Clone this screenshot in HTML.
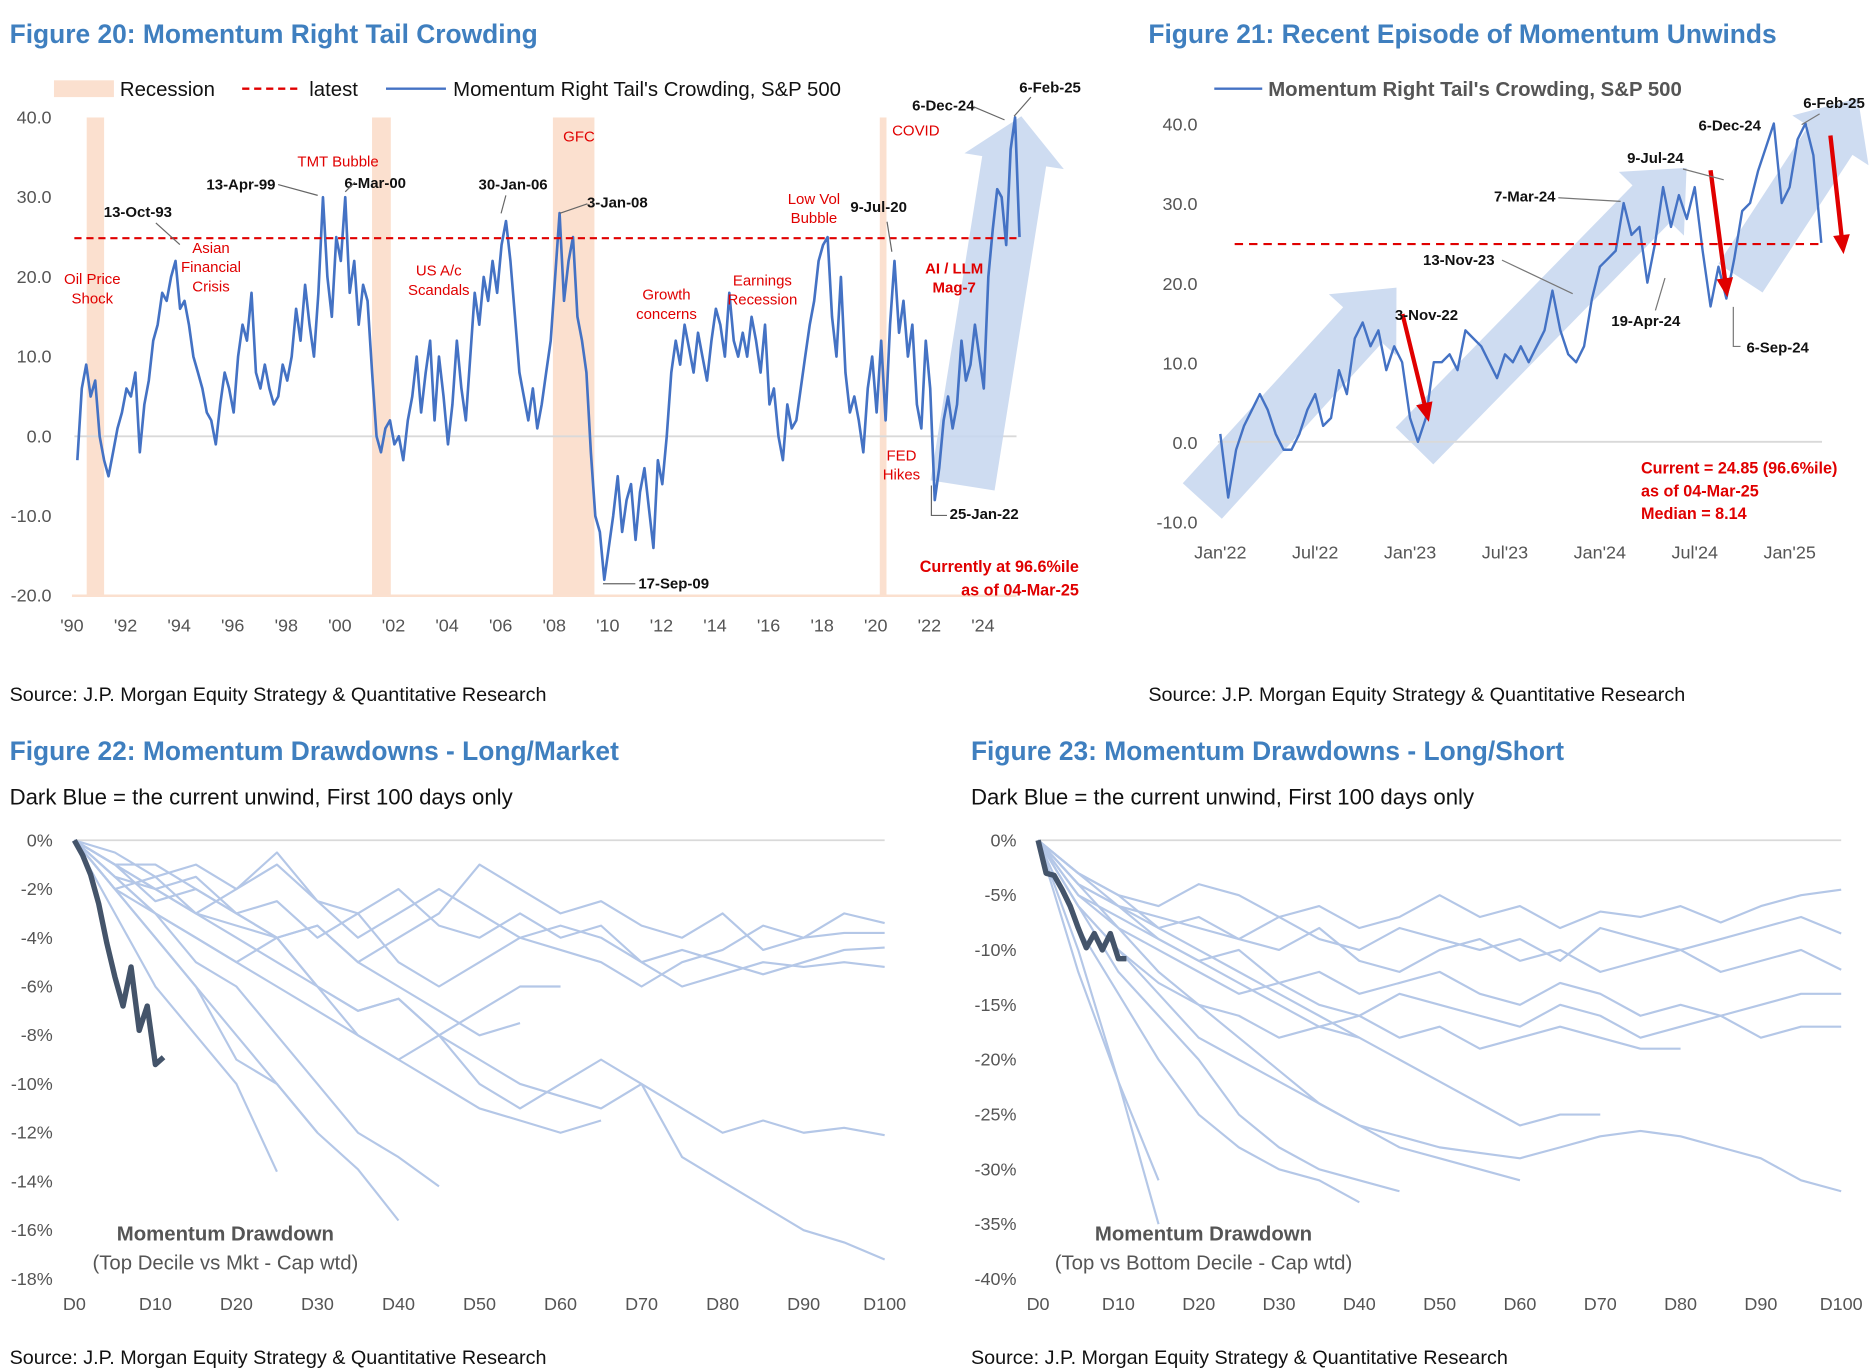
<!DOCTYPE html>
<html><head><meta charset="utf-8"><style>
html,body{margin:0;padding:0;background:#fff;}
svg{display:block;font-family:"Liberation Sans Narrow","Liberation Sans",sans-serif;}
.title{font-size:22px;font-weight:bold;fill:#3f7fbf;}
.sub{font-size:18.5px;fill:#111;}
.src{font-size:16.5px;fill:#111;}
.tick{font-size:15px;fill:#555;}
.ann{font-size:12.5px;font-weight:bold;fill:#111;}
.red{font-size:12.5px;fill:#e00000;}
.redb{font-size:13.5px;font-weight:bold;fill:#e00000;}
.leg{font-size:17px;fill:#111;}
</style></head><body>
<svg id="root" width="1870" height="1372" viewBox="0 0 1560 1144.6" xmlns="http://www.w3.org/2000/svg">
<text class="title" x="8" y="36">Figure 20: Momentum Right Tail Crowding</text>
<text class="title" x="958" y="36">Figure 21: Recent Episode of Momentum Unwinds</text>
<text class="src" x="8" y="585">Source: J.P. Morgan Equity Strategy &amp; Quantitative Research</text>
<text class="src" x="958" y="585">Source: J.P. Morgan Equity Strategy &amp; Quantitative Research</text>
<text class="title" x="8" y="634">Figure 22: Momentum Drawdowns - Long/Market</text>
<text class="sub" x="8" y="671">Dark Blue = the current unwind, First 100 days only</text>
<text class="title" x="810" y="634">Figure 23: Momentum Drawdowns - Long/Short</text>
<text class="sub" x="810" y="671">Dark Blue = the current unwind, First 100 days only</text>
<text class="src" x="8" y="1138">Source: J.P. Morgan Equity Strategy &amp; Quantitative Research</text>
<text class="src" x="810" y="1138">Source: J.P. Morgan Equity Strategy &amp; Quantitative Research</text>

<rect x="45" y="67" width="50" height="14" fill="#fbe0cf"/>
<text class="leg" x="100" y="80">Recession</text>
<line x1="202" y1="74" x2="252" y2="74" stroke="#e00000" stroke-width="2" stroke-dasharray="6,4"/>
<text class="leg" x="258" y="80">latest</text>
<line x1="322" y1="74" x2="372" y2="74" stroke="#4472c4" stroke-width="2"/>
<text class="leg" x="378" y="80">Momentum Right Tail's Crowding, S&amp;P 500</text>
<line x1="1013" y1="74" x2="1053" y2="74" stroke="#4472c4" stroke-width="2"/>
<text x="1058" y="80" style="font-size:17px;font-weight:bold;fill:#555">Momentum Right Tail's Crowding, S&amp;P 500</text>

<g id="f20"></g>
<g id="f21"></g>
<g id="f22"></g>
<g id="f23"></g>
</svg>
<script>
const f20Start = 1990.2;
const f20Values = [
-3,6,9,5,7,0, -3,-5,-2,1,3,6, 5,8,-2,4,7,12, 14,18,17,20,22,16, 17,14,10,8,6,3,
2,-1,4,8,6,3, 10,14,12,18,8,6, 9,6,4,5,9,7, 10,16,12,19,14,10, 18,30,20,15,25,22,
30,18,22,14,19,17, 8,0,-2,1,2,-1, 0,-3,2,5,10,3, 8,12,2,10,5,-1, 4,12,6,2,10,18,
14,20,17,22,18,24, 27,22,15,8,5,2, 6,1,4,8,12,20, 28,17,22,25,15,12, 8,-2,-10,-12,-18,-14,
-10,-5,-12,-8,-6,-13, -7,-4,-9,-14,-3,-6, 0,8,12,9,14,11, 8,13,10,7,12,16, 14,10,18,12,10,13,
10,15,12,8,14,4, 6,0,-3,4,1,2, 6,10,14,17,22,24, 25,15,10,20,8,3, 5,2,-2,6,10,3,
12,2,14,22,13,17, 10,14,4,1,12,6, -8,-4,2,5,1,4, 12,7,9,14,10,6, 20,26,31,30,24,36, 40,25];
const f20Latest = 24.85;
const f20YTicks = [40,30,20,10,0,-10,-20];
const f20XTickYears = [1990,1992,1994,1996,1998,2000,2002,2004,2006,2008,2010,2012,2014,2016,2018,2020,2022,2024];
const f20Recessions = [[1990.55,1991.2],[2001.2,2001.9],[2007.95,2009.5],[2020.15,2020.4]];
const f21Values = [1,-7,-1,2,4,6,4,1,-1,-1,1,4,6,2,3,9,6,13,15,12,14,9,12,10,
3,0,3,10,10,11,9,14,13,12,10,8,11,10,12,10,12,14,19,14,11,10,12,18,
22,23,24,30,26,27,20,25,32,27,31,28,32,24,17,22,18,23,29,30,34,37,40,30,
32,38,40,36,25];
const f21YTicks = [40,30,20,10,0,-10];
const f21XTicks = ["Jan'22","Jul'22","Jan'23","Jul'23","Jan'24","Jul'24","Jan'25"];
const f22Current = [0,-0.6,-1.4,-2.6,-4.2,-5.6,-6.8,-5.2,-7.8,-6.8,-9.2,-8.9];
const f22History = [
[0,-1,-2.5,-2,-3,-4,-3.5,-5,-4,-3,-1,-2,-3,-2.5,-3.5,-4,-3,-4.5,-4,-3,-3.4],
[0,-1.5,-2,-3,-4,-5,-6,-7,-6.5,-8,-9,-10,-10.5,-11,-10,-13,-14,-15,-16,-16.5,-17.2],
[0,-1.5,-3,-4,-5,-6,-7,-8,-9,-8,-10,-11,-10,-9,-10,-11,-12,-11.5,-12,-11.8,-12.1],
[0,-0.5,-1.5,-1,-2,-1,-2.5,-3,-2,-3.5,-4,-3,-4,-3.5,-5,-4.5,-5,-5.5,-5,-4.5,-4.4],
[0,-1,-1,-2,-3,-2.5,-4,-3,-5,-6,-5,-4,-3.5,-4,-5,-6,-5.5,-5,-5.2,-5,-5.2],
[0,-2,-1.5,-3,-2,-0.5,-2.5,-4,-3,-2,-3,-4,-4.5,-5,-6,-5,-4.5,-3.5,-4,-3.8,-3.8],
[0,-2,-4,-6,-9,-10,-12,-13.5,-15.6],
[0,-1.5,-3,-5,-6,-8,-10,-12,-13,-14.2],
[0,-3,-6,-8,-10,-13.6],
[0,-1,-2,-3,-3.5,-4,-6,-8,-9,-10,-11,-11.5,-12,-11.5],
[0,-2,-3,-4,-5,-4,-6,-7,-6.5,-8,-7,-6,-6],
[0,-1,-2,-1.5,-3,-4,-3.5,-5,-6,-7,-8,-7.5],
[0,-2,-4,-6,-8,-10,-12]];
const f22YTicks = [0,-2,-4,-6,-8,-10,-12,-14,-16,-18];
const f22XTicks = ["D0","D10","D20","D30","D40","D50","D60","D70","D80","D90","D100"];
const f23Current = [0,-3,-3.2,-4.5,-6,-8,-9.8,-8.5,-10,-8.5,-10.8,-10.8];
const f23History = [
[0,-3,-5,-6,-4,-5,-7,-6,-8,-7,-5,-7,-6,-8,-6.5,-7,-6,-7.5,-6,-5,-4.5],
[0,-4,-6,-7,-8,-9,-7,-9,-10,-8,-9,-10,-9,-11,-8,-9,-10,-9,-8,-7,-8.5],
[0,-3,-5,-8,-7,-9,-10,-8,-11,-12,-10,-9,-11,-10,-12,-11,-10,-12,-11,-10,-11.8],
[0,-5,-7,-9,-11,-10,-13,-12,-14,-13,-12,-14,-15,-13,-14,-16,-15,-16,-15,-14,-14],
[0,-4,-8,-10,-12,-14,-13,-15,-16,-14,-15,-16,-17,-15,-16,-18,-17,-16,-18,-17,-17],
[0,-6,-10,-14,-18,-20,-22,-24,-26,-27,-28,-28.5,-29,-28,-27,-26.5,-27,-28,-29,-31,-32],
[0,-4,-6,-9,-11,-13,-15,-17,-16,-18,-17,-19,-18,-17,-18,-19,-19],
[0,-6,-12,-16,-20,-25,-28,-30,-31,-32],
[0,-8,-14,-20,-25,-28,-30,-31,-33],
[0,-10,-22,-35],
[0,-12,-22,-31],
[0,-3,-6,-8,-10,-12,-14,-16,-18,-20,-22,-24,-26,-25,-25],
[0,-5,-8,-12,-15,-18,-21,-24,-26,-28,-29,-30,-31],
[0,-6,-10,-13,-15,-16,-18,-17,-18]];
const f23YTicks = [0,-5,-10,-15,-20,-25,-30,-35,-40];
const f23XTicks = ["D0","D10","D20","D30","D40","D50","D60","D70","D80","D90","D100"];

const NS = "http://www.w3.org/2000/svg";
function mk(parent, tag, attrs, text){
  const e = document.createElementNS(NS, tag);
  for (const k in attrs) e.setAttribute(k, attrs[k]);
  if (text !== undefined) e.textContent = text;
  parent.appendChild(e);
  return e;
}
function lin(d0,d1,r0,r1){ return v => r0 + (v-d0)/(d1-d0)*(r1-r0); }
function arrowPts(x1,y1,x2,y2,w,hw,hl){
  const dx=x2-x1, dy=y2-y1, L=Math.hypot(dx,dy), ux=dx/L, uy=dy/L, nx=-uy, ny=ux;
  const bx=x2-ux*hl, by=y2-uy*hl;
  const p=[[x1+nx*w,y1+ny*w],[bx+nx*w,by+ny*w],[bx+nx*hw,by+ny*hw],[x2,y2],[bx-nx*hw,by-ny*hw],[bx-nx*w,by-ny*w],[x1-nx*w,y1-ny*w]];
  return p.map(q=>q[0].toFixed(1)+","+q[1].toFixed(1)).join(" ");
}

(function(){
  const g = document.getElementById('f20');
  const x = lin(1990,2024,60,820), y = lin(40,-20,98,497);
  f20Recessions.forEach(r=>{
    const e = mk(g,'rect',{x:x(r[0]),y:y(40),width:x(r[1])-x(r[0]),height:y(-20)-y(40),fill:'#fbe0cf'});
    
    
  });
  const bl = mk(g,'line',{x1:60,y1:y(-20),x2:848,y2:y(-20),stroke:'#fbe0cf','stroke-width':2});
  
  
  const zl = mk(g,'line',{x1:62,y1:y(0),x2:848,y2:y(0),stroke:'#d9d9d9','stroke-width':1.5});
  
  
  const ar = mk(g,'polygon',{points:arrowPts(803,405,852,97,27,42,38),fill:'#c6d6ee',opacity:0.85});
  
  
  f20YTicks.forEach(v=>{
    const t = mk(g,'text',{x:43,y:y(v)+5,'text-anchor':'end',class:'tick'},v.toFixed(1));
    
    
  });
  f20XTickYears.forEach(yr=>{
    const t = mk(g,'text',{x:x(yr),y:527,'text-anchor':'middle',class:'tick'},"'"+String(yr).slice(2));
    
    
  });
  const pts = f20Values.map((v,i)=>x(f20Start+i/6).toFixed(1)+","+y(v).toFixed(1)).join(" ");
  const pl = mk(g,'polyline',{points:pts,fill:'none',stroke:'#4472c4','stroke-width':2.2,'stroke-linejoin':'round'});
  
  
  const lt = mk(g,'line',{x1:62,y1:y(f20Latest),x2:848,y2:y(f20Latest),stroke:'#e00000','stroke-width':1.8,'stroke-dasharray':'6,4'});
  
  
  const blk = [["13-Oct-93",115,181,"M130,186 L150,204"],["13-Apr-99",201,158,"M232,154 L265,163"],["6-Mar-00",313,157,"M296,152 L288,160"],
    ["30-Jan-06",428,158,"M422,163 L418,178"],["3-Jan-08",515,173,"M490,170 L467,178"],["9-Jul-20",733,177,"M740,185 L744,210"],
    ["6-Dec-24",787,92,"M812,89 L838,100"],["6-Feb-25",876,77,"M860,81 L846,97"],["25-Jan-22",821,433,"M790,430 L777,430 L777,405"],["17-Sep-09",562,491,"M530,487 L503,487"]];
  blk.forEach(a=>{
    const t = mk(g,'text',{x:a[1],y:a[2],'text-anchor':'middle',class:'ann'},a[0]);
    
    
    const p = mk(g,'path',{d:a[3],fill:'none',stroke:'#666','stroke-width':1});
    
    
  });
  const reds = [["TMT Bubble",282,139],["Oil Price",77,237],["Shock",77,253],["Asian",176,211],["Financial",176,227],["Crisis",176,243],
    ["US A/c",366,230],["Scandals",366,246],["GFC",483,118],["Growth",556,250],["concerns",556,266],["Earnings",636,238],["Recession",636,254],
    ["Low Vol",679,170],["Bubble",679,186],["COVID",764,113],["FED",752,384],["Hikes",752,400]];
  reds.forEach(a=>{
    const t = mk(g,'text',{x:a[1],y:a[2],'text-anchor':'middle',class:'red'},a[0]);
    
    
  });
  [["AI / LLM",796,228],["Mag-7",796,244]].forEach(a=>{
    const t = mk(g,'text',{x:a[1],y:a[2],'text-anchor':'middle',class:'red','font-weight':'bold'},a[0]);
    
    
  });
  [["Currently at 96.6%ile",900,477],["as of 04-Mar-25",900,497]].forEach(a=>{
    const t = mk(g,'text',{x:a[1],y:a[2],'text-anchor':'end',class:'redb'},a[0]);
    
    
  });
})();

(function(){
  const g = document.getElementById('f21');
  const x = lin(2022,2025,1018,1493), y = lin(40,-10,103,435);
  [[1003,418,1165,240],[1180,372,1407,140],[1452,232,1550,82]].forEach(a=>{
    const p = mk(g,'polygon',{points:arrowPts(a[0],a[1],a[2],a[3],22,38,42),fill:'#c6d6ee',opacity:0.85});
    
    
  });
  const zl = mk(g,'line',{x1:1016,y1:y(0),x2:1520,y2:y(0),stroke:'#d9d9d9','stroke-width':1.5});
  
  
  f21YTicks.forEach(v=>{
    const t = mk(g,'text',{x:999,y:y(v)+6,'text-anchor':'end',class:'tick','font-size':'17'},v.toFixed(1));
    
    
  });
  f21XTicks.forEach((s,i)=>{
    const t = mk(g,'text',{x:x(2022+i*0.5),y:466,'text-anchor':'middle',class:'tick','font-size':'17'},s);
    
    
  });
  const pts = f21Values.map((v,i)=>x(2022+i/24).toFixed(1)+","+y(v).toFixed(1)).join(" ");
  const pl = mk(g,'polyline',{points:pts,fill:'none',stroke:'#4472c4','stroke-width':2,'stroke-linejoin':'round'});
  
  
  const lt = mk(g,'line',{x1:1030,y1:y(f20Latest),x2:1520,y2:y(f20Latest),stroke:'#e00000','stroke-width':1.8,'stroke-dasharray':'7,5'});
  
  
  [[1170,262,1192,352],[1427,142,1441,248],[1527,113,1538,212]].forEach(a=>{
    const p = mk(g,'polygon',{points:arrowPts(a[0],a[1],a[2],a[3],1.8,7,16),fill:'#e00000'});
    
    
  });
  const ann = [["9-Jul-24",1381,136,"M1404,141 L1438,150"],["7-Mar-24",1272,168,"M1300,165 L1352,168"],["13-Nov-23",1217,221,"M1253,217 L1312,245"],
    ["3-Nov-22",1190,267,""],["19-Apr-24",1373,272,"M1381,259 L1389,232"],["6-Sep-24",1483,294,"M1452,289 L1446,289 L1446,256"],
    ["6-Dec-24",1443,109,""],["6-Feb-25",1530,90,"M1518,95 L1503,104"]];
  ann.forEach(a=>{
    const t = mk(g,'text',{x:a[1],y:a[2],'text-anchor':'middle',class:'ann',fill:'#333'},a[0]);
    
    
    if(a[3]){
      const p = mk(g,'path',{d:a[3],fill:'none',stroke:'#777','stroke-width':1});
      
      
    }
  });
  [["Current = 24.85 (96.6%ile)",395],["as of 04-Mar-25",414],["Median = 8.14",433]].forEach(a=>{
    const t = mk(g,'text',{x:1369,y:a[1],class:'redb'},a[0]);
    
    
  });
})();

function drawDD(id, hist, cur, yTicks, xTicks, x0, x1, yMin, labRight, noteX, note2){
  const g = document.getElementById(id);
  const x = lin(0,100,x0,x1), y = lin(0,yMin,701,1067);
  const zl = mk(g,'line',{x1:x0,y1:y(0),x2:x1,y2:y(0),stroke:'#d9d9d9','stroke-width':1.5});
  
  
  yTicks.forEach(v=>{
    const t = mk(g,'text',{x:labRight,y:y(v)+5,'text-anchor':'end',class:'tick'},v+"%");
    
    
  });
  xTicks.forEach((s,i)=>{
    const t = mk(g,'text',{x:x(i*10),y:1093,'text-anchor':'middle',class:'tick'},s);
    
    
  });
  hist.forEach(arr=>{
    const pts = arr.map((v,i)=>x(i*5).toFixed(1)+","+y(v).toFixed(1)).join(" ");
    const p = mk(g,'polyline',{points:pts,fill:'none',stroke:'#b4c7e7','stroke-width':1.8,'stroke-linejoin':'round'});
    
    
  });
  const pts = cur.map((v,i)=>x(i).toFixed(1)+","+y(v).toFixed(1)).join(" ");
  const p = mk(g,'polyline',{points:pts,fill:'none',stroke:'#44546a','stroke-width':4.5,'stroke-linejoin':'round'});
  
  
  const t1 = mk(g,'text',{x:noteX,y:1035,'text-anchor':'middle','font-size':'17','font-weight':'bold',fill:'#555'},"Momentum Drawdown");
  
  
  const t2 = mk(g,'text',{x:noteX,y:1059,'text-anchor':'middle','font-size':'17',fill:'#555'},note2);
  
  
}
drawDD('f22', f22History, f22Current, f22YTicks, f22XTicks, 62, 738, -18, 44, 188, "(Top Decile vs Mkt - Cap wtd)");
drawDD('f23', f23History, f23Current, f23YTicks, f23XTicks, 866, 1536, -40, 848, 1004, "(Top vs Bottom Decile - Cap wtd)");
</script>
</body></html>
